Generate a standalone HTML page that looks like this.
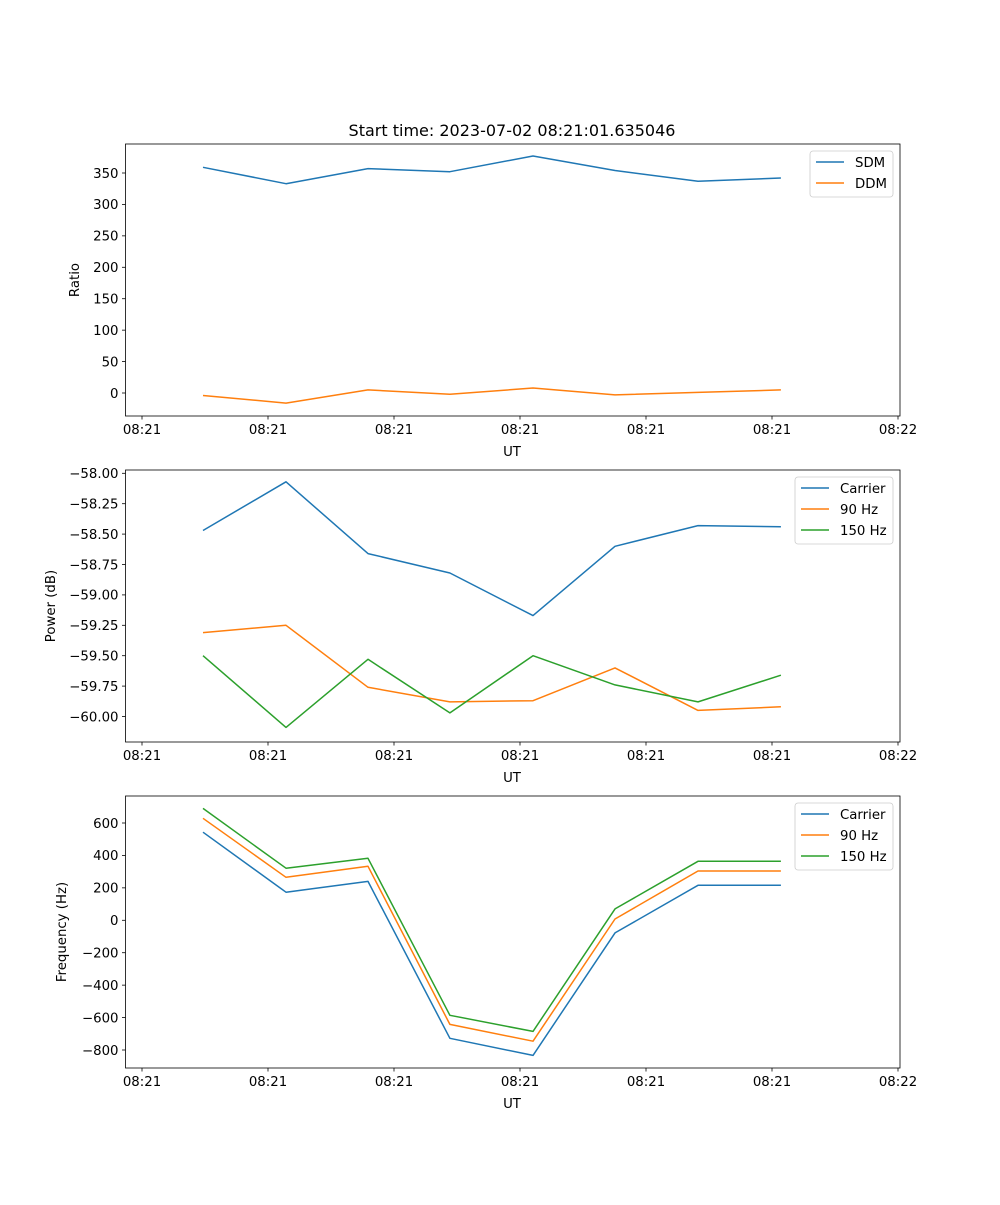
<!DOCTYPE html>
<html><head><meta charset="utf-8"><style>
body{margin:0;background:#fff;}
svg text{font-family:"DejaVu Sans","Liberation Sans",sans-serif;font-size:13.3px;fill:#000;}
</style></head><body>
<svg id="fig" width="1000" height="1200" xmlns="http://www.w3.org/2000/svg">
<rect width="1000" height="1200" fill="#fff"/>
<text x="512" y="136" text-anchor="middle" style="font-size:16px">Start time: 2023-07-02 08:21:01.635046</text>
</svg>
<script>
// shared time axis (tick units)
const times = [0.484, 1.143, 1.794, 2.444, 3.103, 3.754, 4.413, 5.071];
const xTickLabels = ["08:21","08:21","08:21","08:21","08:21","08:21","08:22"];
// panel 1
const sdm = [359, 333, 357, 352, 377, 354, 337, 342];
const ddm = [-4, -16, 5, -2, 8, -3, 1, 5];
const ratioTicks = [0, 50, 100, 150, 200, 250, 300, 350];
// panel 2
const powCarrier = [-58.47, -58.07, -58.66, -58.82, -59.17, -58.60, -58.43, -58.44];
const pow90 = [-59.31, -59.25, -59.76, -59.88, -59.87, -59.60, -59.95, -59.92];
const pow150 = [-59.50, -60.09, -59.53, -59.97, -59.50, -59.74, -59.88, -59.66];
const powTicks = [-58.00, -58.25, -58.50, -58.75, -59.00, -59.25, -59.50, -59.75, -60.00];
// panel 3
const freqCarrier = [543, 173, 240, -728, -833, -78, 216, 216];
const freq90 = [629, 265, 333, -642, -746, 8, 304, 304];
const freq150 = [690, 321, 382, -586, -685, 70, 364, 364];
const freqTicks = [-800, -600, -400, -200, 0, 200, 400, 600];

const NS = "http://www.w3.org/2000/svg";
const svg = document.getElementById('fig');
const C = {blue:"#1f77b4", orange:"#ff7f0e", green:"#2ca02c"};
function mk(tag, attrs, parent){const e=document.createElementNS(NS,tag);for(const k in attrs)e.setAttribute(k,attrs[k]);(parent||svg).appendChild(e);return e;}
const L=125.5, R=900, xScale = t => 142 + 126*t;
function fmt(v,dec){const s=Math.abs(v).toFixed(dec);return (v<0?"\u2212":"")+s;}

function panel(name, top, bottom, yv, yp, ticks, dec, ylabel, ylabelX, series, legend){
  const g = mk('g',{});
  
  
  const yScale = v => yp[0] + (v - yv[0])*(yp[1]-yp[0])/(yv[1]-yv[0]);
  // y ticks
  ticks.forEach(v=>{
    const y=yScale(v);
    const tk=mk('line',{x1:L-3.5,x2:L,y1:y,y2:y,stroke:'#000','stroke-width':0.8},g);
    
    
    const t=mk('text',{x:L-7,y:y+4.8,'text-anchor':'end'},g); t.textContent=fmt(v,dec);
    
    
  });
  xTickLabels.forEach((lab,i)=>{
    const x=xScale(i);
    const tk=mk('line',{x1:x,x2:x,y1:bottom,y2:bottom+3.5,stroke:'#000','stroke-width':0.8},g);
    
    
    const t=mk('text',{x:x,y:bottom+18,'text-anchor':'middle'},g); t.textContent=lab;
    
    
  });
  const xl=mk('text',{x:512,y:bottom+40,'text-anchor':'middle'},g); xl.textContent='UT';
  
  
  const cy=(top+bottom)/2;
  const yl=mk('text',{x:ylabelX,y:cy,'text-anchor':'middle',transform:`rotate(-90 ${ylabelX} ${cy})`},g); yl.textContent=ylabel;
  
  
  series.forEach(s=>{
    const p=mk('polyline',{points:s.vals.map((v,i)=>xScale(times[i]).toFixed(1)+','+yScale(v).toFixed(1)).join(' '),fill:'none',stroke:s.color,'stroke-width':1.5,'stroke-linejoin':'round'},g);
    
    
  });
  const fr=mk('rect',{x:L,y:top,width:R-L,height:bottom-top,fill:'none',stroke:'#000','stroke-width':0.8},g);
  
  
  // legend
  const lg=mk('g',{},g);
  
  
  mk('rect',{x:legend.x,y:top+7,width:893-legend.x,height:series.length*21+4,rx:3,fill:'#fff','fill-opacity':0.8,stroke:'#ccc','stroke-width':0.8},lg);
  series.forEach((s,i)=>{
    const y=top+18+i*21;
    const e=mk('g',{},lg);
    
    
    mk('line',{x1:legend.x+6,x2:legend.x+34,y1:y,y2:y,stroke:s.color,'stroke-width':1.5},e);
    const t=mk('text',{x:legend.x+45,y:y+5},e); t.textContent=s.label;
  });
}
panel('ratio-panel',144,416,[0,350],[393,173],ratioTicks,0,'Ratio',79,
  [{key:'sdm',label:'SDM',vals:sdm,color:C.blue},{key:'ddm',label:'DDM',vals:ddm,color:C.orange}],{x:810});
panel('power-panel',470,742,[-58,-60],[473.3,716.5],powTicks,2,'Power (dB)',55,
  [{key:'carrier',label:'Carrier',vals:powCarrier,color:C.blue},{key:'90hz',label:'90 Hz',vals:pow90,color:C.orange},{key:'150hz',label:'150 Hz',vals:pow150,color:C.green}],{x:795});
panel('frequency-panel',796,1068,[600,-800],[823,1050],freqTicks,0,'Frequency (Hz)',66,
  [{key:'carrier',label:'Carrier',vals:freqCarrier,color:C.blue},{key:'90hz',label:'90 Hz',vals:freq90,color:C.orange},{key:'150hz',label:'150 Hz',vals:freq150,color:C.green}],{x:795});
</script>
</body></html>
